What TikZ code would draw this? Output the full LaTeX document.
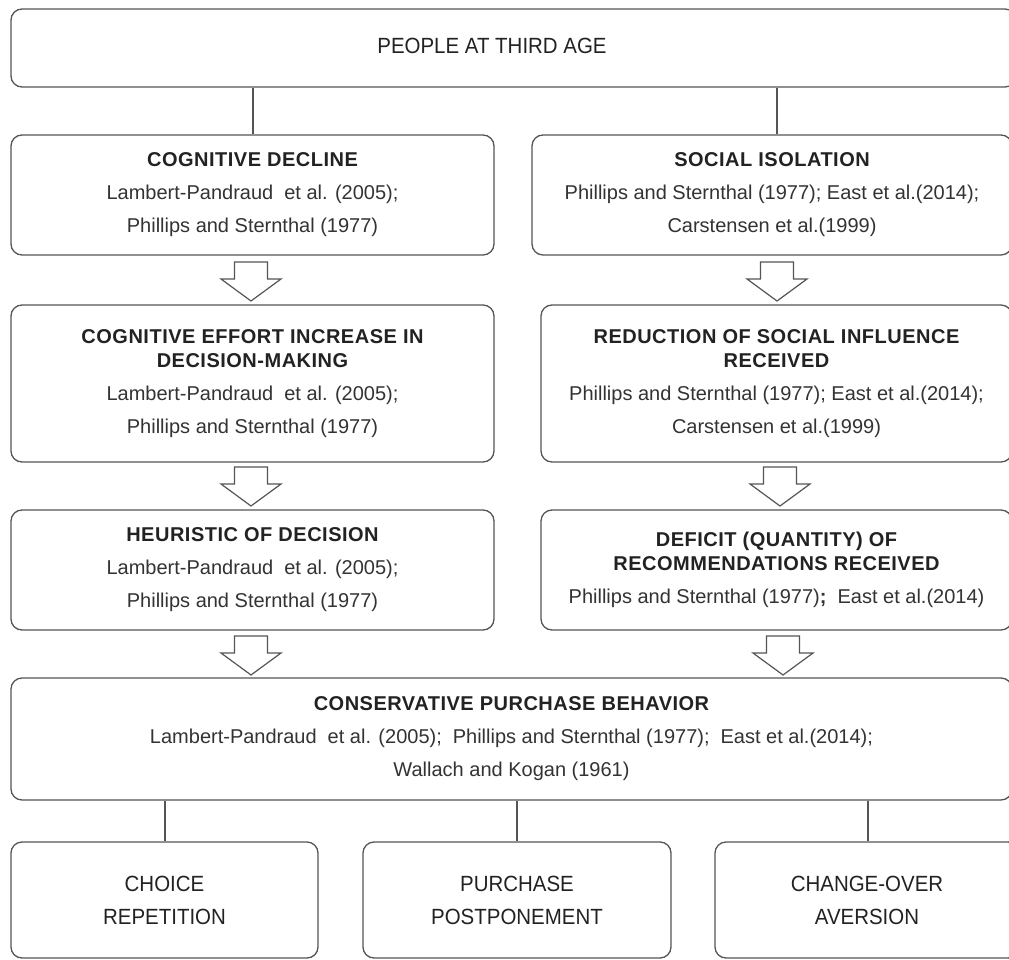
\documentclass[tikz,border=0pt]{standalone}
\usepackage{fontspec}
\setmainfont{Liberation Sans}
\definecolor{linec}{HTML}{555555}
\definecolor{txt}{HTML}{333333}
\definecolor{ttl}{HTML}{222222}
\newcommand{\ttlx}[1]{{\bfseries\addfontfeatures{LetterSpace=2.5}\color{ttl}#1}}
\newcommand{\dsp}{\hspace{0.55em}}
\newcommand{\cnd}[1]{\scalebox{0.93}[1]{#1}}
\tikzset{
  box/.style={draw=linec, line width=1.3pt, rounded corners=11pt, fill=white,
    align=center, text=txt, inner sep=0pt, font=\fontsize{20}{33}\selectfont},
  cbox/.style={box, text=ttl, font=\fontsize{22}{33}\selectfont},
  conn/.style={draw=linec, line width=1.2pt},
  blk/.style={draw=linec, line width=1.2pt, fill=white, line join=miter},
  hollow/.pic={\path[blk] (-16.5,0) -- (16.5,0) -- (16.5,17) -- (30,17) -- (0,39) -- (-30,17) -- (-16.5,17) -- cycle;}
}
\begin{document}
\begin{tikzpicture}[x=1pt,y=-1pt]
\useasboundingbox[fill=white] (0,0) rectangle (1009,960);

% top
\node[box, minimum width=1005pt, minimum height=78pt] (top) at (513.5,48) {};
\node[text=ttl, font=\fontsize{22}{33}\selectfont, inner sep=0pt] (toptext) at (492,46) {\cnd{PEOPLE AT THIRD AGE}};

% row 1
\node[box, minimum width=483pt, minimum height=120pt] (cd) at (252.5,195)
  {\ttlx{COGNITIVE DECLINE}\\Lambert-Pandraud\dsp et al. (2005);\\Phillips and Sternthal (1977)};
\node[box, minimum width=480pt, minimum height=120pt] (si) at (772,195)
  {\ttlx{SOCIAL ISOLATION}\\Phillips and Sternthal (1977); East et al.(2014);\\Carstensen et al.(1999)};

% row 2
\node[box, minimum width=483pt, minimum height=157pt] (cei) at (252.5,383.5)
  {\ttlx{COGNITIVE EFFORT INCREASE IN}\\[-9pt]\ttlx{DECISION-MAKING}\\Lambert-Pandraud\dsp et al. (2005);\\Phillips and Sternthal (1977)};
\node[box, minimum width=471pt, minimum height=157pt] (rsi) at (776.5,383.5)
  {\ttlx{REDUCTION OF SOCIAL INFLUENCE}\\[-9pt]\ttlx{RECEIVED}\\Phillips and Sternthal (1977); East et al.(2014);\\Carstensen et al.(1999)};

% row 3
\node[box, minimum width=483pt, minimum height=120pt] (hd) at (252.5,570)
  {\ttlx{HEURISTIC OF DECISION}\\Lambert-Pandraud\dsp et al. (2005);\\Phillips and Sternthal (1977)};
\node[box, minimum width=471pt, minimum height=120pt] (dq) at (776.5,570)
  {\ttlx{DEFICIT (QUANTITY) OF}\\[-9pt]\ttlx{RECOMMENDATIONS RECEIVED}\\Phillips and Sternthal (1977)\textbf{;}\dsp East et al.(2014)};

% row 4
\node[box, minimum width=1001pt, minimum height=122pt] (cpb) at (511.5,739)
  {\ttlx{CONSERVATIVE PURCHASE BEHAVIOR}\\Lambert-Pandraud\dsp et al. (2005);\dsp Phillips and Sternthal (1977);\dsp East et al.(2014);\\Wallach and Kogan (1961)};

% bottom
\node[cbox, minimum width=307pt, minimum height=116pt] (b1) at (164.5,900) {\cnd{CHOICE}\\\cnd{REPETITION}};
\node[cbox, minimum width=308pt, minimum height=116pt] (b2) at (517,900) {\cnd{PURCHASE}\\\cnd{POSTPONEMENT}};
\node[cbox, minimum width=304pt, minimum height=116pt] (b3) at (867,900) {\cnd{CHANGE-OVER}\\\cnd{AVERSION}};

% connectors
\coordinate (x1) at (253,0);
\coordinate (x2) at (777,0);
\draw[conn] (top.south -| x1) -- (cd.north -| x1);
\draw[conn] (top.south -| x2) -- (si.north -| x2);
\coordinate (x3) at (165,0);
\coordinate (x4) at (517,0);
\coordinate (x5) at (868,0);
\draw[conn] (cpb.south -| x3) -- (b1.north -| x3);
\draw[conn] (cpb.south -| x4) -- (b2.north -| x4);
\draw[conn] (cpb.south -| x5) -- (b3.north -| x5);

% hollow arrows
\pic (a1) at (251,262) {hollow};
\pic (a2) at (777,262) {hollow};
\pic (a3) at (251,467) {hollow};
\pic (a4) at (780,467) {hollow};
\pic (a5) at (251,636) {hollow};
\pic (a6) at (783,636) {hollow};
\end{tikzpicture}
\end{document}
